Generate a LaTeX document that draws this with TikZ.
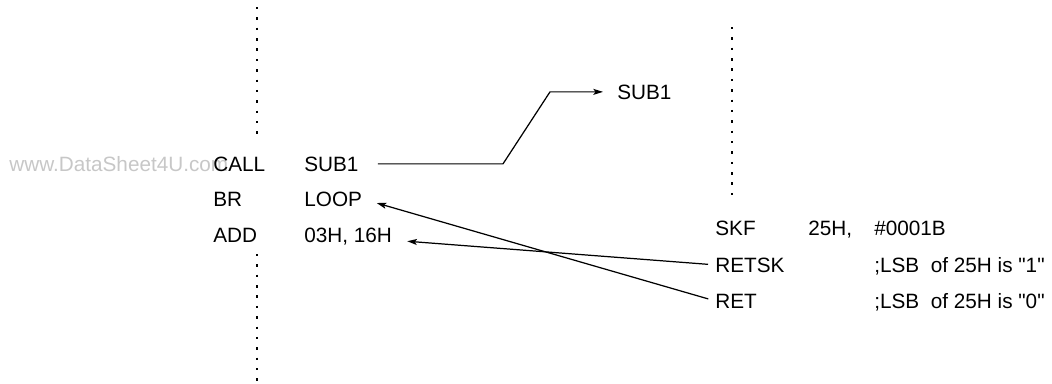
\documentclass[tikz,border=0pt]{standalone}
\usepackage{fontspec}
\setmainfont{Liberation Sans}[Ligatures=TeXOff]
\usetikzlibrary{arrows.meta}
\tikzset{
  code/.style={anchor=base west,inner sep=0pt,font=\fontsize{11.8}{14}\selectfont},
  dots/.style={line width=1.4pt,dash pattern=on 1.4pt off 4.5pt},
  jump/.style={line width=.7pt,-{Stealth[length=5.5pt,width=3.4pt,inset=1.2pt]}}
}
\begin{document}
\begin{tikzpicture}[x=.02cm,y=-.02cm]
\useasboundingbox (0,0) rectangle (1052,383);
% main routine
\draw[dots] (257,7)--(257,135);
\draw[dots] (257,254)--(257,382);
\node[code,text=black!22] (mark) at (9,171) {www.DataSheet4U.com};
\node[code] (call) at (213,171) {CALL};
\node[code] (callop) at (304,171) {SUB1};
\node[code] (br) at (213,206) {BR};
\node[code] (brop) at (304,206) {LOOP};
\node[code] (add) at (213,242) {ADD};
\node[code] (addop) at (304,242) {03H, 16H};
% subroutine
\node[code] (sub) at (617,99) {SUB1};
\draw[dots] (732,27)--(732,196);
\node[code] (skf) at (715,235) {SKF};
\node[code] (skfa) at (808,235) {25H,};
\node[code] (skfb) at (874,235) {\#0001B};
\node[code] (retsk) at (715,272) {RETSK};
\node[code] (retskc) at (874,272) {;LSB\ \ of 25H is "1"};
\node[code] (ret) at (715,308) {RET};
\node[code] (retc) at (874,308) {;LSB\ \ of 25H is "0"};
% jumps
\draw[jump,shorten <=.38cm,shorten >=.28cm] (callop.east) -- (503,0 |- callop.east)
  -- (550,0 |- sub.west) -- (sub.west);
\draw[jump,shorten <=.14cm,shorten >=.3cm] (retsk.west) -- ([shift={(0,4)}]addop.east);
\draw[jump,shorten <=.14cm,shorten >=.3cm] (ret.west) -- (brop.east);
\end{tikzpicture}
\end{document}
